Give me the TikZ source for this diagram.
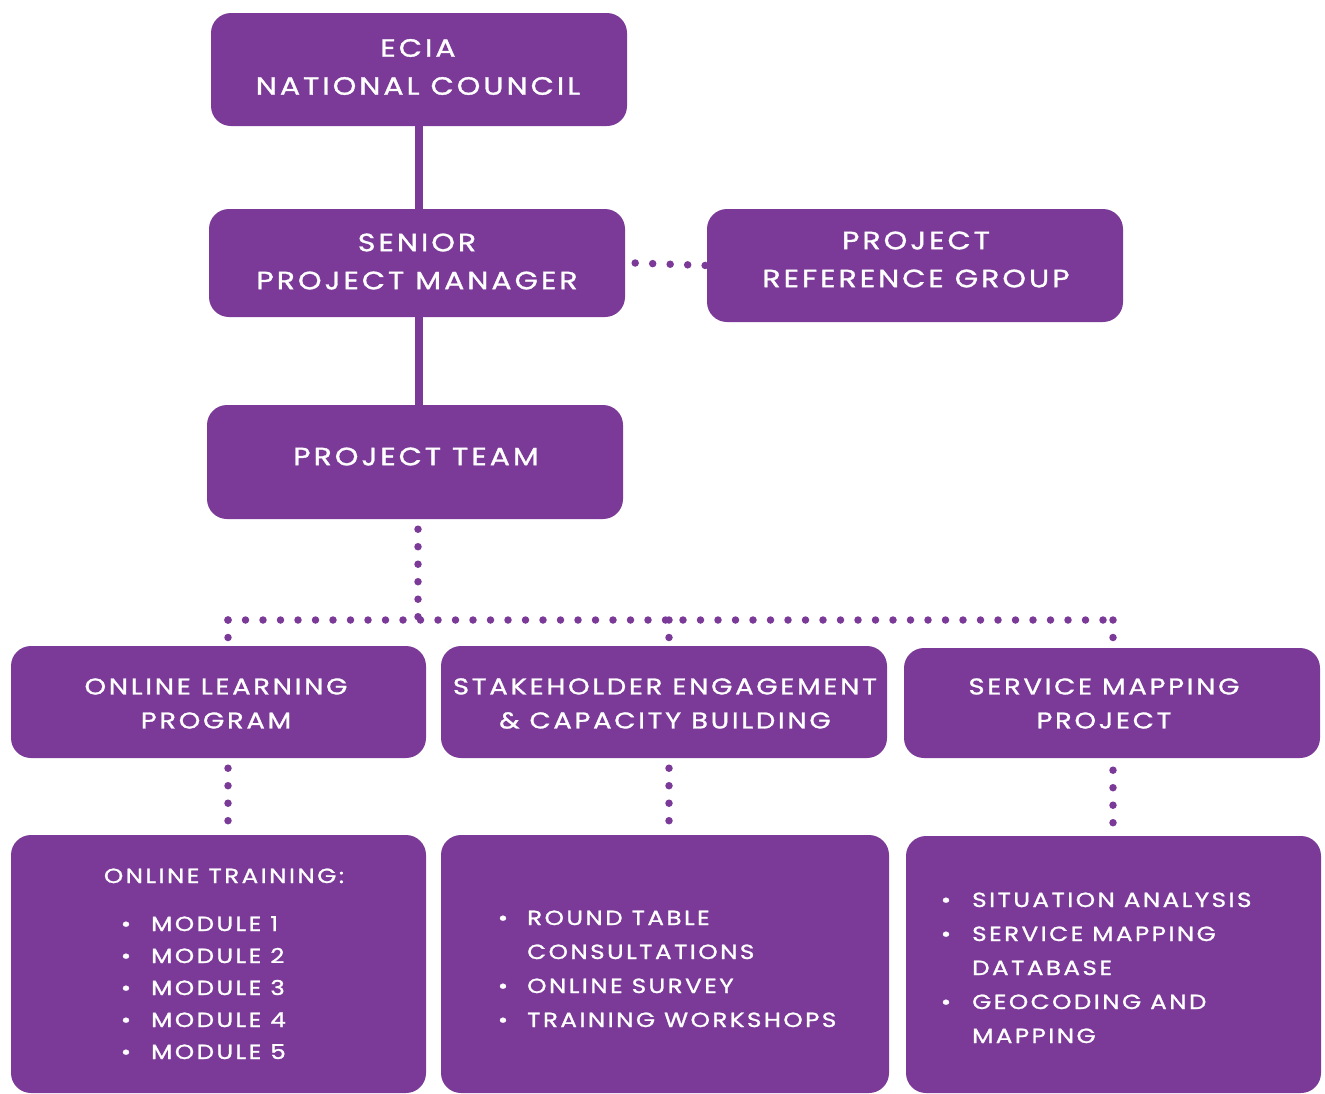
\documentclass[tikz,border=0pt]{standalone}
\usepackage{fontspec}
\setmainfont{Poppins}[LetterSpace=12,FakeStretch=1.2,FakeBold=1.2]
\definecolor{purp}{HTML}{7B3A98}
\begin{document}
\begin{tikzpicture}[x=1pt,y=-1pt,
  box/.style={fill=purp, rounded corners=20pt, inner sep=0pt},
  btxt/.style={inner sep=0pt, text=white, align=center, font=\fontsize{25}{38}\selectfont},
  mtxt/.style={inner sep=0pt, text=white, align=center, font=\fontsize{22.8}{34}\selectfont},
  solidc/.style={draw=purp, line width=8pt},
  dotc/.style={draw=purp, line width=7.5pt, line cap=round, dash pattern=on 0pt off 17.5pt},
  itm/.style={anchor=base west, inner sep=0pt, text=white, font=\fontsize{20.5}{30}\selectfont},
  bul/.style={anchor=base, inner sep=0pt, text=white, font=\fontsize{20.5}{30}\selectfont}]
\useasboundingbox (0,0) rectangle (1325,1093);
% boxes
\node[box, minimum width=416pt, minimum height=113pt] (ecia) at (419,69.5) {};
\node[box, minimum width=416pt, minimum height=108pt] (spm) at (417,263) {};
\node[box, minimum width=416pt, minimum height=113pt] (prg) at (915,265.5) {};
\node[box, minimum width=416pt, minimum height=114pt] (pt) at (415,462) {};
\node[box, minimum width=415pt, minimum height=112pt] (olp) at (218.5,702) {};
\node[box, minimum width=446pt, minimum height=112pt] (sec) at (664,702) {};
\node[box, minimum width=416pt, minimum height=110pt] (smp) at (1112,703) {};
\node[box, minimum width=415pt, minimum height=258pt] (b1) at (218.5,964) {};
\node[box, minimum width=448pt, minimum height=258pt] (b2) at (665,964) {};
\node[box, minimum width=415pt, minimum height=257pt] (b3) at (1113.5,964.5) {};
% box texts
\node[btxt] (eciaT) at (418,67) {ECIA\\NATIONAL COUNCIL};
\node[btxt] (spmT) at (417,261.5) {SENIOR\\PROJECT MANAGER};
\node[btxt] (prgT) at (916,259.5) {PROJECT\\REFERENCE GROUP};
\node[btxt] (ptT) at (416,456.5) {PROJECT TEAM};
\node[mtxt] (olpT) at (216,703.5) {ONLINE LEARNING\\PROGRAM};
\node[mtxt] (secT) at (665,703.5) {STAKEHOLDER ENGAGEMENT\\\& CAPACITY BUILDING};
\node[mtxt] (smpT) at (1104,703.5) {SERVICE MAPPING\\PROJECT};
% coordinates
\coordinate (hm) at (418,620);
\coordinate (hl) at (228,620);
\coordinate (hc) at (669,620);
\coordinate (hr) at (1113,620);
% connectors
\draw[solidc] (ecia.south -| 419,0) -- (spm.north -| 419,0);
\draw[solidc] (spm.south -| 419,0) -- (pt.north -| 419,0);
\draw[dotc] ([xshift=10pt]spm.east) -- (prg.west);
\draw[dotc] ([yshift=-10pt]pt.south -| hm) -- (hm);
\draw[dotc] (hl) -- (hr);
\draw[dotc] (hl) -- (hl |- olp.north);
\draw[dotc] (hc) -- (hc |- sec.north);
\draw[dotc] (hr) -- (hr |- smp.north);
\draw[dotc] ([yshift=-10pt]olp.south -| hl) -- (b1.north -| hl);
\draw[dotc] ([yshift=-10pt]sec.south -| hc) -- (b2.north -| hc);
\draw[dotc] ([yshift=-12pt]smp.south -| hr) -- (b3.north -| hr);
% box 1 text
\node[anchor=base, inner sep=0pt, text=white, font=\fontsize{20.5}{30}\selectfont] (t1h) at (224,883) {ONLINE TRAINING:};
\foreach \i/\y in {1/931,2/963,3/995,4/1027,5/1059}{
  \node[bul] (b1b\i) at (126,\y) {•};
  \node[itm] (b1t\i) at (151,\y) {MODULE \i};
}
% box 2 text
\node[bul] (b2b1) at (503,925) {•};
\node[itm] (b2t1) at (527,925) {ROUND TABLE};
\node[itm] (b2t2) at (527,959) {CONSULTATIONS};
\node[bul] (b2b3) at (503,993) {•};
\node[itm] (b2t3) at (527,993) {ONLINE SURVEY};
\node[bul] (b2b4) at (503,1027) {•};
\node[itm] (b2t4) at (527,1027) {TRAINING WORKSHOPS};
% box 3 text
\node[bul] (b3b1) at (946,907) {•};
\node[itm] (b3t1) at (972,907) {SITUATION ANALYSIS};
\node[bul] (b3b2) at (946,941) {•};
\node[itm] (b3t2) at (972,941) {SERVICE MAPPING};
\node[itm] (b3t3) at (972,975) {DATABASE};
\node[bul] (b3b4) at (946,1009) {•};
\node[itm] (b3t4) at (972,1009) {GEOCODING AND};
\node[itm] (b3t5) at (972,1043) {MAPPING};
\end{tikzpicture}
\end{document}
